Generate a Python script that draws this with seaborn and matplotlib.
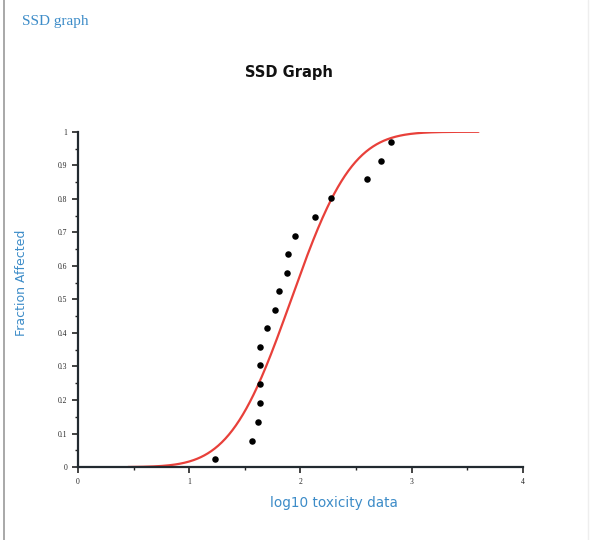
import math
import numpy as np
import pandas as pd
import seaborn as sns
import matplotlib.pyplot as plt
from matplotlib.lines import Line2D
from matplotlib.ticker import MultipleLocator

# log10 toxicity values and plotting positions
log_tox = [1.23, 1.56, 1.62, 1.64, 1.64, 1.64, 1.64, 1.70, 1.77,
           1.81, 1.88, 1.89, 1.95, 2.13, 2.27, 2.60, 2.72, 2.81]
frac_affected = [0.024, 0.079, 0.135, 0.190, 0.247, 0.304, 0.357, 0.414, 0.469,
                 0.524, 0.580, 0.636, 0.690, 0.747, 0.803, 0.858, 0.914, 0.969]
x_ticks = [0, 1, 2, 3, 4]
y_ticks = [0, 0.1, 0.2, 0.3, 0.4, 0.5, 0.6, 0.7, 0.8, 0.9, 1]
y_ticklabels = ['0', '0.1', '0.2', '0.3', '0.4', '0.5', '0.6', '0.7', '0.8', '0.9', '1']

data = pd.DataFrame({'log10': log_tox, 'fraction': frac_affected})

# fitted log-normal SSD (normal in log10 space) from the data
mu = np.mean(log_tox)
sd = np.std(log_tox, ddof=1)
xs = np.linspace(0.45, 3.6, 300)
fit = pd.DataFrame({'log10': xs,
                    'fraction': [0.5 * (1 + math.erf((v - mu) / (sd * math.sqrt(2)))) for v in xs]})

sns.set_style('white')
plt.rcParams['font.family'] = ['DejaVu Sans']

fig = plt.figure(figsize=(5.95, 5.4), dpi=100)
ax = fig.add_axes([0.131, 0.135, 0.748, 0.621])

sns.lineplot(x='log10', y='fraction', data=fit, color='#e8403a', linewidth=1.6, ax=ax, zorder=2)
sns.scatterplot(x='log10', y='fraction', data=data, color='black', s=22, edgecolor='black',
                linewidth=0, ax=ax, zorder=3, clip_on=False)

ax.set_xlim(0, 4)
ax.set_ylim(0, 1)
ax.set_xticks(x_ticks)
ax.set_xticklabels([str(t) for t in x_ticks], family='Liberation Serif', fontsize=5.5)
ax.set_yticks(y_ticks)
ax.set_yticklabels(y_ticklabels, family='Liberation Serif', fontsize=5.5)
ax.xaxis.set_minor_locator(MultipleLocator(0.5))
ax.yaxis.set_minor_locator(MultipleLocator(0.05))
ax.tick_params(which='major', direction='out', length=4, width=1.2, color='#222222', pad=3.5,
               bottom=True, left=True)
ax.tick_params(which='minor', direction='out', length=2.5, width=1.0, color='#222222',
               bottom=True, left=True)

for side in ['top', 'right']:
    ax.spines[side].set_visible(False)
for side in ['left', 'bottom']:
    ax.spines[side].set_color('#222a30')
    ax.spines[side].set_linewidth(1.6)

ax.set_xlabel('log10 toxicity data', color='#3d8cc8', fontsize=9.8)
ax.set_ylabel('Fraction Affected', color='#3d8cc8', fontsize=9)
ax.xaxis.set_label_coords(0.575, -0.085)
ax.yaxis.set_label_coords(-0.112, 0.55)

fig.text(289 / 595, 1 - 73 / 540, 'SSD Graph', ha='center', va='center', fontsize=10.5,
         fontweight='bold', color='#111111')
fig.text(22 / 595, 1 - 22 / 540, 'SSD graph', ha='left', va='center', fontsize=11,
         family='Liberation Serif', color='#3d8cc8')

fig.add_artist(Line2D([4 / 595, 4 / 595], [0, 1], color='#9a9a9a', linewidth=1.2))
fig.add_artist(Line2D([588 / 595, 588 / 595], [0, 1], color='#eeeeee', linewidth=1.0))

plt.savefig('out.png', dpi=100)
